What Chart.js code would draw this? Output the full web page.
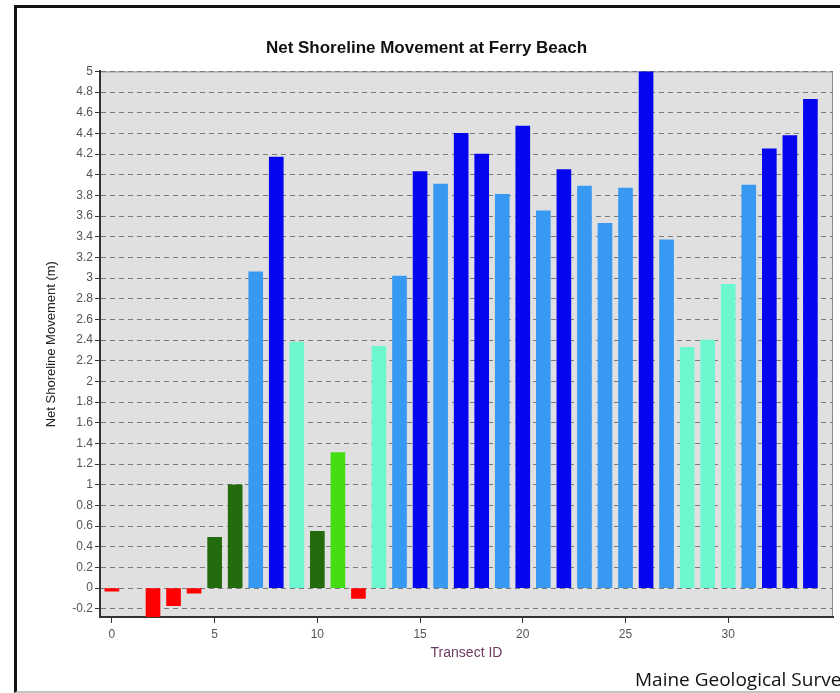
<!DOCTYPE html>
<html>
<head>
<meta charset="utf-8">
<script src="https://cdn.jsdelivr.net/npm/chart.js@4/dist/chart.umd.min.js"></script>
<style>
  html, body { margin: 0; padding: 0; background: #fff; overflow: hidden; }
  #wrap { position: relative; width: 840px; height: 693px; overflow: hidden; }
  #frame {
    position: absolute; left: 14px; top: 5px; width: 840px; height: 683px;
    border-top: 3px solid #111; border-left: 3px solid #111;
    border-bottom: 2px solid #c4c4c4;
  }
  #chartBox { position: absolute; left: 20px; top: 0; width: 820px; height: 693px; }
  #credit {
    position: absolute; left: 635px; top: 666px; white-space: nowrap;
    font-family: "Open Sans", "Noto Sans", sans-serif; font-size: 19px; color: #111;
  }
</style>
</head>
<body>
<div id="wrap">
  <div id="frame"></div>
  <div id="chartBox"><canvas id="shoreChart" width="820" height="693"></canvas></div>
  <div id="credit">Maine Geological Survey</div>
</div>
<script>
// Transect IDs and net shoreline movement (m)
const transectIds = [0, 1, 2, 3, 4, 5, 6, 7, 8, 9, 10, 11, 12, 13, 14, 15, 16, 17,
    18, 19, 20, 21, 22, 23, 24, 25, 26, 27, 28, 29, 30, 31, 32, 33, 34];
const movement = [-0.03, null, -0.28, -0.17, -0.05, 0.49, 1.0, 3.06, 4.17, 2.38,
    0.55, 1.31, -0.10, 2.34, 3.02, 4.03, 3.91, 4.40, 4.20, 3.81, 4.47, 3.65, 4.05,
    3.89, 3.53, 3.87, 5.0, 3.37, 2.33, 2.40, 2.94, 3.90, 4.25, 4.38, 4.73];
const xTicks = [0, 5, 10, 15, 20, 25, 30];
const yTicks = [-0.2, 0, 0.2, 0.4, 0.6, 0.8, 1, 1.2, 1.4, 1.6, 1.8, 2, 2.2, 2.4, 2.6,
    2.8, 3, 3.2, 3.4, 3.6, 3.8, 4, 4.2, 4.4, 4.6, 4.8, 5];

// colour classes by movement range
function barColor(v) {
    if (v < 0) return '#ff0000';
    if (v <= 1) return '#236b0c';
    if (v <= 2) return '#45dd12';
    if (v <= 3) return '#6cf7cf';
    if (v <= 4) return '#3899f2';
    return '#0505ee';
}

const points = transectIds.map((id, i) => ({ x: id, y: movement[i] }));

const plotBackground = {
    id: 'plotBackground',
    beforeDraw(chart) {
        const { ctx, chartArea: a } = chart;
        ctx.save();
        ctx.fillStyle = '#e0e0e0';
        ctx.fillRect(a.left, a.top, a.right - a.left, a.bottom - a.top);
        ctx.strokeStyle = '#8c8c8c';
        ctx.lineWidth = 1;
        ctx.beginPath();
        ctx.moveTo(a.left, a.top + 0.5);
        ctx.lineTo(a.right - 0.5, a.top + 0.5);
        ctx.lineTo(a.right - 0.5, a.bottom);
        ctx.stroke();
        ctx.restore();
    }
};

const ctx = document.getElementById('shoreChart').getContext('2d');
new Chart(ctx, {
    type: 'bar',
    data: {
        datasets: [{
            label: 'Net Shoreline Movement',
            data: points,
            backgroundColor: movement.map(v => barColor(v)),
            borderWidth: 0,
            barThickness: 14,
        }]
    },
    plugins: [plotBackground],
    options: {
        responsive: false,
        animation: false,
        layout: { padding: { left: 0, right: 7, top: 0, bottom: 0 } },
        plugins: {
            title: {
                display: true,
                text: 'Net Shoreline Movement at Ferry Beach',
                font: { family: 'Liberation Sans, Arial, sans-serif', size: 17, weight: 'bold' },
                color: '#111',
                padding: { top: 38, bottom: 13 },
            },
            legend: { display: false },
            tooltip: { enabled: false },
        },
        scales: {
            x: {
                type: 'linear',
                offset: false,
                min: -0.58,
                max: 35.1,
                afterBuildTicks: (scale) => { scale.ticks = xTicks.map(v => ({ value: v })); },
                afterFit: (scale) => { scale.height = 76; },
                ticks: {
                    font: { family: 'Liberation Sans, Arial, sans-serif', size: 12 },
                    color: '#555',
                    padding: 4,
                    maxRotation: 0,
                },
                grid: { offset: false, drawOnChartArea: false, drawTicks: true, tickLength: 6, tickColor: '#333' },
                border: { color: '#333', width: 2 },
                title: {
                    display: true,
                    text: 'Transect ID',
                    font: { family: 'Liberation Sans, Arial, sans-serif', size: 14 },
                    color: '#6e3a62',
                    padding: { top: 0, bottom: 31 },
                },
            },
            y: {
                min: -0.28,
                max: 5,
                afterBuildTicks: (scale) => { scale.ticks = yTicks.map(v => ({ value: v })); },
                afterFit: (scale) => { scale.width = 80; },
                ticks: {
                    font: { family: 'Liberation Sans, Arial, sans-serif', size: 12 },
                    color: '#555',
                    padding: 2,
                    callback: (value) => String(Number(value.toFixed(1))),
                },
                grid: {
                    color: '#7a7a7a',
                    lineWidth: 1,
                    tickLength: 5,
                    tickColor: '#333',
                },
                border: { color: '#333', width: 2, dash: [5, 4] },
                title: {
                    display: true,
                    text: 'Net Shoreline Movement (m)',
                    font: { family: 'Liberation Sans, Arial, sans-serif', size: 13 },
                    color: '#222',
                    padding: { top: 24, bottom: 0 },
                },
            },
        },
    },
});
</script>
</body>
</html>
